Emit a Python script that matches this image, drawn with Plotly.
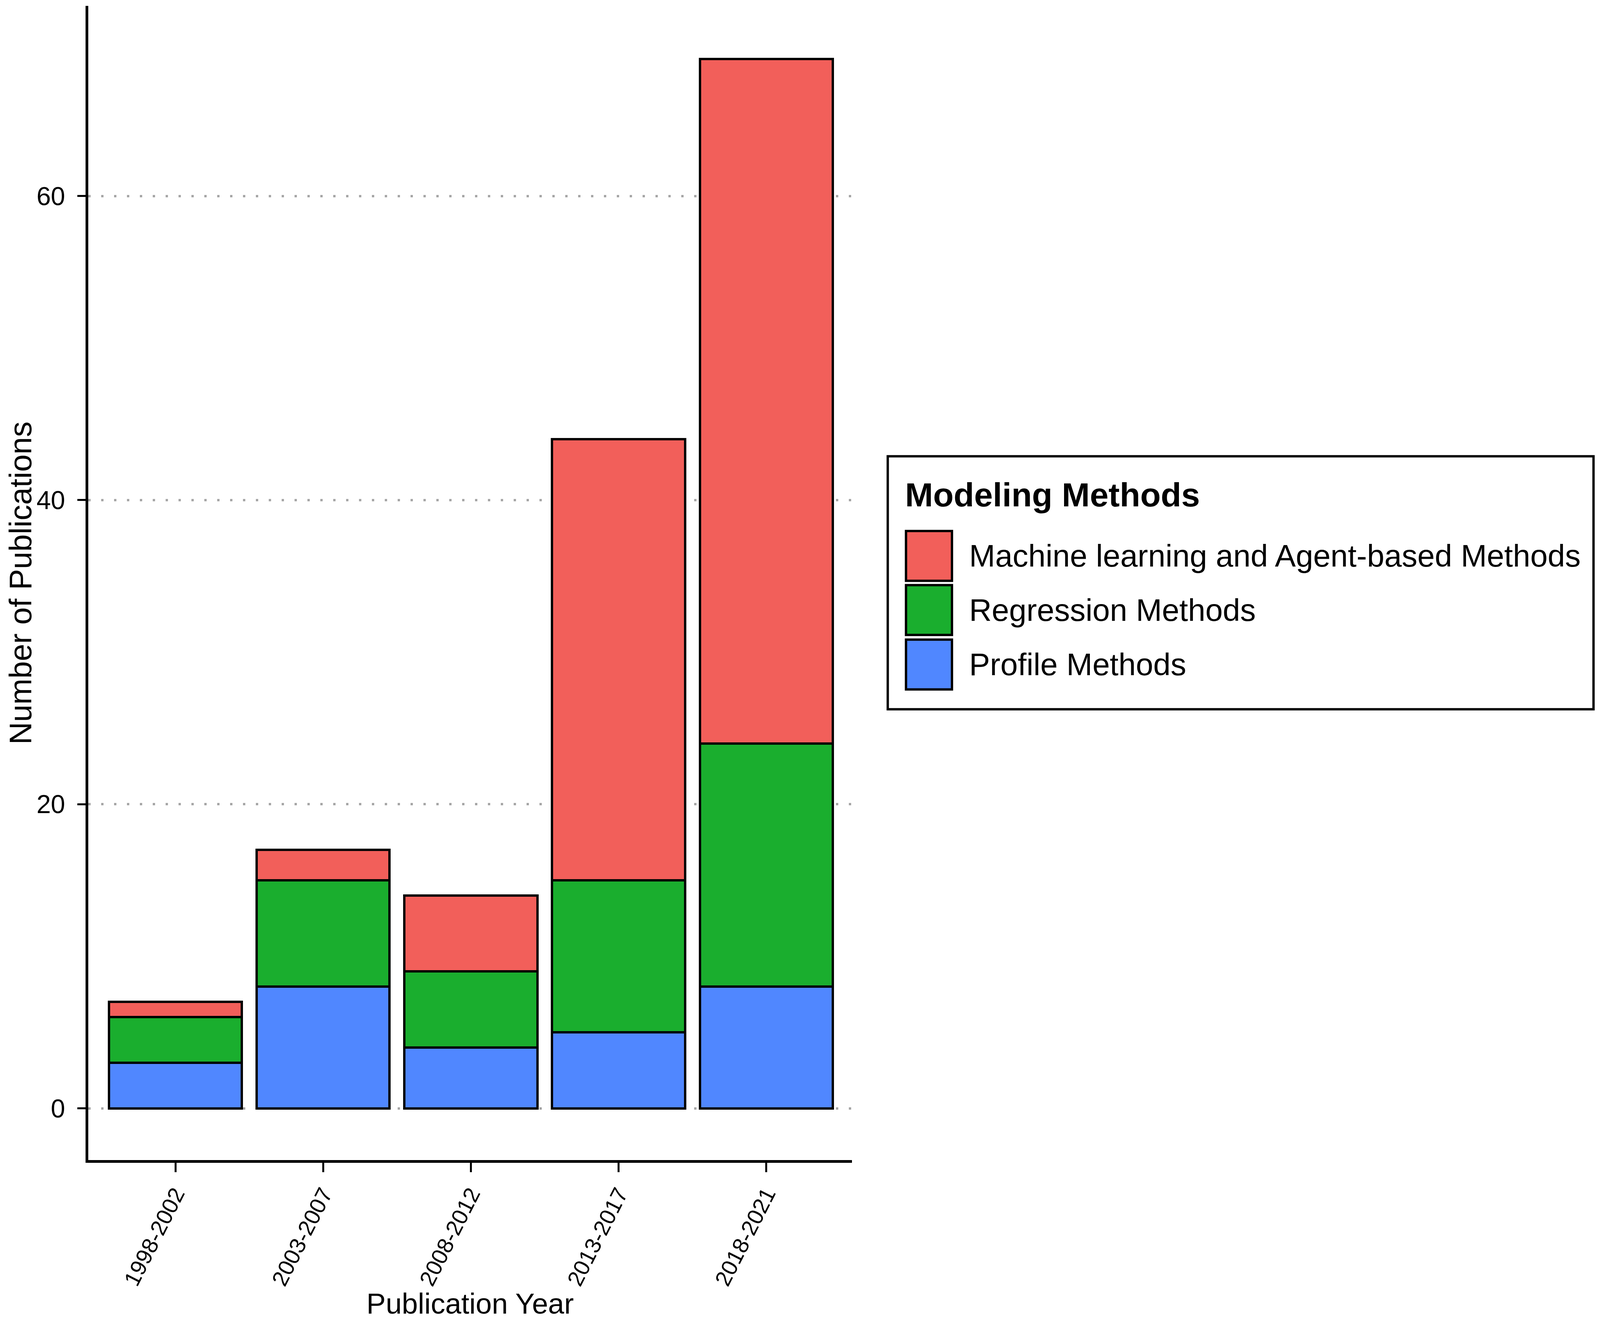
import plotly.graph_objects as go

# data
periods = ["1998-2002", "2003-2007", "2008-2012", "2013-2017", "2018-2021"]
profile_methods = [3, 8, 4, 5, 8]
regression_methods = [3, 7, 5, 10, 16]
ml_agent_methods = [1, 2, 5, 29, 45]

method_names = [
    "Machine learning and Agent-based Methods",
    "Regression Methods",
    "Profile Methods",
]
method_colors = ["#F25F5A", "#1AAE2E", "#5087FF"]

y_ticks = [0, 20, 40, 60]

FONT = "Liberation Sans, Arial, Helvetica, sans-serif"

# the page renders about 4096 css px wide, so lay things out in reference
# pixels and map them over (8px body margin on each side)
REF_W = 4550
PAGE_W, PAGE_H = 4096, 3386
BODY = 8
W, H = PAGE_W - 2 * BODY, PAGE_H - 2 * BODY
SX = PAGE_W / REF_W


def fx(x_ref):
    return x_ref * SX - BODY


def fy(y_ref):
    return y_ref - BODY


# plot area (reference pixels -> figure pixels)
L, R, T, B = fx(247), fx(2423), fy(15), fy(2980)


def px_x(x_ref):
    return (fx(x_ref) - L) / (R - L)


def px_y(y_ref):
    return (B - fy(y_ref)) / (B - T)


fig = go.Figure()

# stacked bottom -> top
for name, vals, col in [
    (method_names[2], profile_methods, method_colors[2]),
    (method_names[1], regression_methods, method_colors[1]),
    (method_names[0], ml_agent_methods, method_colors[0]),
]:
    fig.add_trace(go.Bar(
        x=periods, y=vals, name=name, width=0.9,
        marker=dict(color=col, line=dict(color="black", width=6)),
        showlegend=False,
    ))

fig.update_layout(
    width=W, height=H,
    barmode="stack",
    plot_bgcolor="white", paper_bgcolor="white",
    margin=dict(l=L, r=W - R, t=T, b=H - B, pad=0),
    font=dict(family=FONT, color="black"),
)

fig.update_xaxes(
    range=[-0.59, 4.58],
    showline=True, linecolor="black", linewidth=7,
    ticks="outside", ticklen=24, tickwidth=5, tickcolor="black",
    tickangle=-63, tickfont=dict(size=57, color="black"),
    showgrid=False, zeroline=False,
    title=dict(text="Publication Year", font=dict(size=74), standoff=18),
)
fig.update_yaxes(
    range=[-3.4, 72.5],
    tickvals=y_ticks,
    showline=True, linecolor="black", linewidth=7,
    ticks="outside", ticklen=21, tickwidth=5, tickcolor="black",
    tickfont=dict(size=66, color="black"), ticklabelstandoff=18,
    showgrid=True, gridcolor="#A6A6A6", gridwidth=6, griddash="6px,27px",
    zeroline=False,
    title=dict(text="Number of Publications", font=dict(size=80), standoff=22),
)

# legend drawn by hand so the keys can be as large as in the reference
shapes = [dict(
    type="rect", xref="paper", yref="paper",
    x0=px_x(2525), x1=px_x(4536), y0=px_y(1822), y1=px_y(1172),
    line=dict(color="black", width=6), fillcolor="white", layer="below",
)]
annotations = [dict(
    text="<b>Modeling Methods</b>", xref="paper", yref="paper",
    x=px_x(2572), y=px_y(1271), xanchor="left", yanchor="middle",
    showarrow=False, font=dict(size=86, family=FONT, color="black"),
)]
row_tops = [1364, 1503, 1643]
for name, col, top in zip(method_names, method_colors, row_tops):
    shapes.append(dict(
        type="rect", xref="paper", yref="paper",
        x0=px_x(2577), x1=px_x(2708), y0=px_y(top + 128), y1=px_y(top),
        line=dict(color="black", width=6), fillcolor=col,
    ))
    annotations.append(dict(
        text=name, xref="paper", yref="paper",
        x=px_x(2755), y=px_y(top + 64), xanchor="left", yanchor="middle",
        showarrow=False, font=dict(size=80, family=FONT, color="black"),
    ))

fig.update_layout(shapes=shapes, annotations=annotations)

fig.write_html("out.html")
